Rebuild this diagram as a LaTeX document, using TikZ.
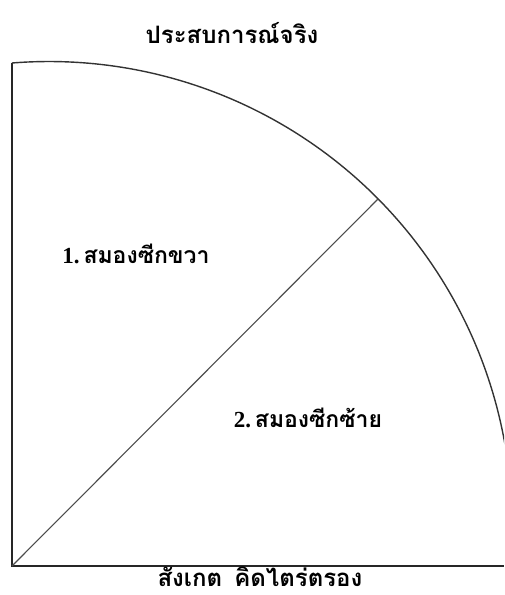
\documentclass[tikz,border=0pt]{standalone}
\usepackage{fontspec}
\newfontfamily\thaifont[Script=Thai]{Loma}
\newfontfamily\numfont{Liberation Serif}
\begin{document}
\begin{tikzpicture}[x=1pt,y=-1pt,
  lbl/.style={font=\thaifont\bfseries\fontsize{24}{28}\selectfont, anchor=base, inner sep=0pt},
  frame/.style={line width=1.8pt, black!85},
  curve/.style={line width=1.4pt, black!80},
  diag/.style={line width=1.1pt, black!70}]
\useasboundingbox (0,0) rectangle (504,595);
\begin{scope}
\clip (0,0) rectangle (504,595);
\coordinate (O) at (12,566);
\coordinate (T) at (12,63);
\coordinate (R) at (504,566);
\coordinate (C) at (49,524.5);
\coordinate (M) at (378,199);
\draw[frame] (T) -- (O) -- (R);
\draw[curve] (T) arc[start angle=-94.58, end angle=0, radius=463];
\draw[diag] (O) -- (M);
\end{scope}
\node[lbl] (title) at (232,43) {ประสบการณ์จริง};
\node[lbl, font=\thaifont\bfseries\fontsize{23}{27}\selectfont] (left) at (136,263) {{\numfont\bfseries 1.}\,สมองซีกขวา};
\node[lbl, font=\thaifont\bfseries\fontsize{23}{27}\selectfont] (right) at (308,427) {{\numfont\bfseries 2.}\,สมองซีกซ้าย};
\node[lbl, text depth=0pt, font=\thaifont\bfseries\fontsize{24}{28}\selectfont] (bottom) at (260,586) {สังเกต\, คิดไตร่ตรอง};
\end{tikzpicture}
\end{document}
